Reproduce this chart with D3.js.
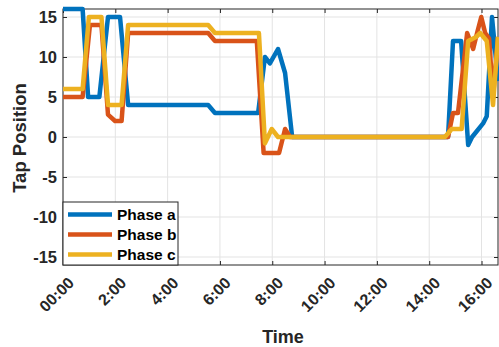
<!DOCTYPE html>
<html><head><meta charset="utf-8">
<script src="https://cdn.jsdelivr.net/npm/d3@7"></script>
<style>body{margin:0;background:#fff}svg{display:block}</style>
</head><body>
<script>
const xTickValues = [0,2,4,6,8,10,12,14,16];
const xTickLabels = ["00:00","2:00","4:00","6:00","8:00","10:00","12:00","14:00","16:00"];
const yTickValues = [-15,-10,-5,0,5,10,15];
const seriesNames = ["Phase a","Phase b","Phase c"];
const seriesColors = ["#0072BD","#D95319","#EDB120"];

const timeA = [0,0.75,0.96,1.39,1.72,2.18,2.49,5.55,5.81,7.46,7.72,7.91,8.22,8.49,8.76,14.72,14.91,15.22,15.49,15.64,16.06,16.2,16.4,16.63];
const valA  = [16,16,5,5,15,15,4,4,3,3,10,9.2,11,8,0,0,12,12,-1,0,1.7,2.6,15,7];
const timeB = [0,0.75,1.03,1.47,1.72,1.99,2.24,2.49,5.55,5.81,7.41,7.67,8.26,8.49,8.68,14.72,14.91,15.1,15.45,15.68,15.83,15.99,16.14,16.29,16.44,16.63];
const valB  = [5,5,14,14,2.8,2,2,13,13,12,12,-2,-2,1,0,0,3,3,13,11,13,15,13,12.3,5,12.5];
const timeC = [0,0.75,0.99,1.47,1.72,2.24,2.49,5.55,5.81,7.49,7.72,7.98,8.22,14.6,14.86,15.24,15.49,15.79,15.95,16.2,16.44,16.63];
const valC  = [6,6,15,15,4,4,14,14,13,13,-0.8,1,0,0,1,1,12,12.5,13,12,4,12.5];

const W = 499, H = 347;
const m = {left:63, right:1, top:9, bottom:82};
const svg = d3.select("body").append("svg").attr("width",W).attr("height",H)
  .style("font-family","'Liberation Sans', Arial, sans-serif");

const x = d3.scaleLinear().domain([0,16.63]).range([m.left, W-m.right]);
const y = d3.scaleLinear().domain([-16,16]).range([H-m.bottom, m.top]);

const axisColor = "#262626";
// grid
svg.append("g").selectAll("line").data(yTickValues).join("line")
  .attr("x1",x.range()[0]).attr("x2",x.range()[1])
  .attr("y1",d=>y(d)).attr("y2",d=>y(d))
  .attr("stroke","#e3e3e3").attr("stroke-width",1);
svg.append("g").selectAll("line").data(xTickValues).join("line")
  .attr("y1",y.range()[0]).attr("y2",y.range()[1])
  .attr("x1",d=>x(d)).attr("x2",d=>x(d))
  .attr("stroke","#e3e3e3").attr("stroke-width",1);

// axes (inward ticks)
const gx = svg.append("g").attr("transform",`translate(0,${y(-16)})`)
  .call(d3.axisTop(x).tickValues(xTickValues).tickSize(4).tickFormat(""));
const gx2 = svg.append("g").attr("transform",`translate(0,${y(16)})`)
  .call(d3.axisBottom(x).tickValues(xTickValues).tickSize(4).tickFormat(""));
const gy = svg.append("g").attr("transform",`translate(${x(0)},0)`)
  .call(d3.axisRight(y).tickValues(yTickValues).tickSize(4).tickFormat(""));
const gy2 = svg.append("g").attr("transform",`translate(${x.range()[1]},0)`)
  .call(d3.axisLeft(y).tickValues(yTickValues).tickSize(4).tickFormat(""));
[gx,gx2,gy,gy2].forEach(g=>{
  g.select(".domain").remove();
  g.selectAll("line").attr("stroke",axisColor);
});
svg.append("rect").attr("x",x.range()[0]).attr("y",y(16))
  .attr("width",x.range()[1]-x.range()[0]).attr("height",y(-16)-y(16))
  .attr("fill","none").attr("stroke",axisColor).attr("stroke-width",1);

// y tick labels
svg.append("g").selectAll("text").data(yTickValues).join("text")
  .attr("x",x(0)-6).attr("y",d=>y(d)).attr("dy","0.36em")
  .attr("text-anchor","end").attr("font-size",16.5).attr("font-weight","bold")
  .attr("fill",axisColor).text(d=>d);

// x tick labels rotated
svg.append("g").selectAll("text").data(xTickValues).join("text")
  .attr("transform",(d)=>`translate(${x(d)+8},${y(-16)+15}) rotate(-45)`)
  .attr("text-anchor","end").attr("dy","0.35em")
  .attr("font-size",16).attr("font-weight","bold").attr("fill",axisColor)
  .text((d,i)=>xTickLabels[i]);

// axis titles
svg.append("text").attr("x",283).attr("y",343)
  .attr("text-anchor","middle").attr("font-size",18).attr("font-weight","bold")
  .attr("fill",axisColor).text("Time");
svg.append("text").attr("transform",`translate(26,${138}) rotate(-90)`)
  .attr("text-anchor","middle").attr("font-size",18.5).attr("font-weight","bold")
  .attr("fill",axisColor).text("Tap Position");

// lines
const line = d3.line().x(d=>x(d[0])).y(d=>y(d[1]));
const series = [
  d3.zip(timeA,valA), d3.zip(timeB,valB), d3.zip(timeC,valC)
];
svg.append("g").selectAll("path").data(series).join("path")
  .attr("d",line).attr("fill","none")
  .attr("stroke",(d,i)=>seriesColors[i]).attr("stroke-width",4.5)
  .attr("stroke-linejoin","round");

// legend
const lg = svg.append("g");
lg.append("rect").attr("x",x(0)).attr("y",202).attr("width",115).attr("height",y(-16)-202)
  .attr("fill","#fff").attr("stroke",axisColor).attr("stroke-width",1);
seriesNames.forEach((n,i)=>{
  const yy = 214.5 + i*20;
  lg.append("line").attr("x1",x(0)+5).attr("x2",x(0)+49).attr("y1",yy).attr("y2",yy)
    .attr("stroke",seriesColors[i]).attr("stroke-width",4.5);
  lg.append("text").attr("x",x(0)+54).attr("y",yy).attr("dy","0.36em")
    .attr("font-size",15.5).attr("font-weight","bold").attr("fill","#000").text(n);
});
</script>
</body></html>
